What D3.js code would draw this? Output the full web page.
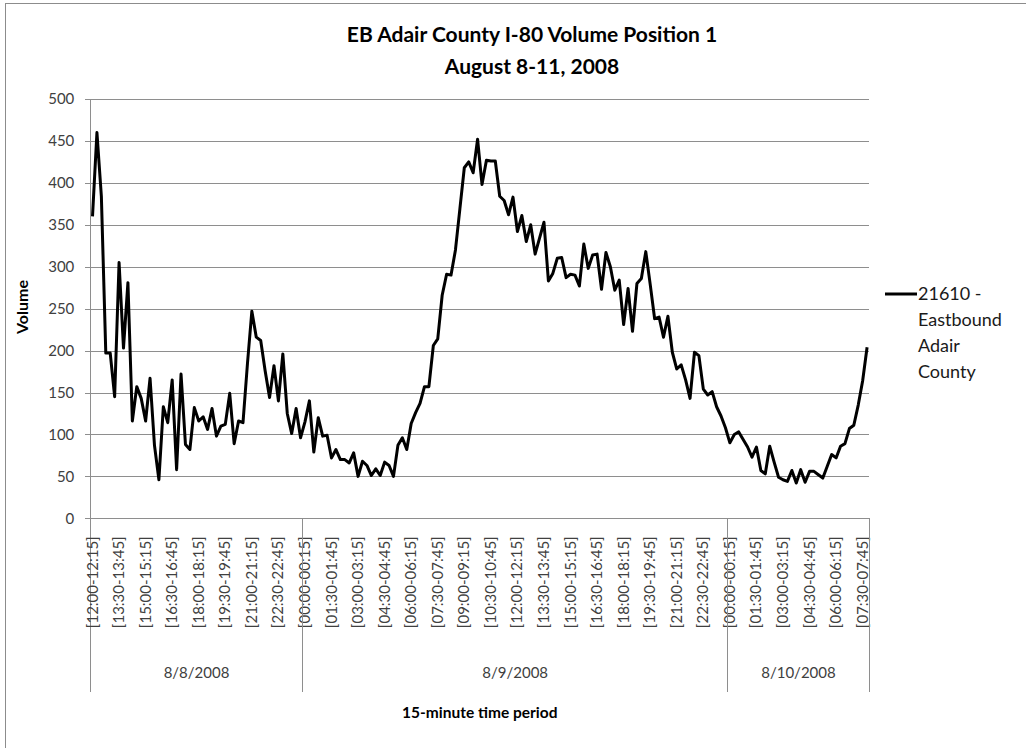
<!DOCTYPE html>
<html>
<head>
<meta charset="utf-8">
<script src="https://cdn.jsdelivr.net/npm/d3@7/dist/d3.min.js"></script>
<style>
  html, body { margin: 0; padding: 0; background: #ffffff; }
  svg { display: block; }
  text { font-family: Lato, "Open Sans", "DejaVu Sans", sans-serif; }
</style>
</head>
<body>
<script>
// ---------- data ----------
const chartTitle = ["EB Adair County I-80 Volume Position 1", "August 8-11, 2008"];
const yAxisTitle = "Volume";
const xAxisTitle = "15-minute time period";
const seriesName = ["21610 -", "Eastbound", "Adair", "County"];

const days = ["8/8/2008", "8/9/2008", "8/10/2008"];
const dayPeriodCounts = [48, 96, 32];
const firstDayStartMinutes = 12 * 60;   // 8/8 begins at 12:00

const tickLabels = [
  "[12:00-12:15]", "[13:30-13:45]", "[15:00-15:15]", "[16:30-16:45]", "[18:00-18:15]",
  "[19:30-19:45]", "[21:00-21:15]", "[22:30-22:45]",
  "[00:00-00:15]", "[01:30-01:45]", "[03:00-03:15]", "[04:30-04:45]", "[06:00-06:15]",
  "[07:30-07:45]", "[09:00-09:15]", "[10:30-10:45]", "[12:00-12:15]", "[13:30-13:45]",
  "[15:00-15:15]", "[16:30-16:45]", "[18:00-18:15]", "[19:30-19:45]", "[21:00-21:15]",
  "[22:30-22:45]",
  "[00:00-00:15]", "[01:30-01:45]", "[03:00-03:15]", "[04:30-04:45]", "[06:00-06:15]",
  "[07:30-07:45]"
];

const yTicks = [0, 50, 100, 150, 200, 250, 300, 350, 400, 450, 500];

const volume = [
  360, 460, 384, 197, 197, 145, 305, 203, 281, 116,
  157, 143, 116, 167, 87, 46, 133, 114, 165, 58,
  172, 88, 82, 132, 116, 121, 106, 131, 98, 110,
  112, 149, 89, 116, 114, 184, 247, 216, 212, 176,
  144, 182, 140, 196, 125, 101, 131, 96,
  115, 140, 79, 120, 98, 99, 72, 82, 70, 70,
  66, 78, 50, 68, 63, 51, 59, 51, 67, 63,
  50, 87, 96, 82, 113, 126, 137, 157, 157, 206,
  214, 266, 291, 290, 320, 369, 418, 425, 412, 452,
  398, 427, 426, 426, 384, 379, 362, 383, 342, 361,
  330, 350, 315, 334, 353, 283, 292, 310, 311, 287,
  291, 290, 277, 327, 298, 314, 315, 273, 317, 300,
  272, 284, 231, 274, 223, 280, 286, 318, 279, 238,
  240, 216, 241, 198, 178, 183, 165, 143, 198, 194,
  154, 147, 151, 133, 122, 108,
  90, 100, 103, 94, 85, 73, 85, 57, 53, 86,
  67, 49, 46, 44, 57, 42, 58, 43, 56, 56,
  52, 48, 62, 76, 72, 86, 89, 107, 111, 135,
  164, 204
];

// ---------- categories (one per 15-minute period) ----------
const pad = n => String(n).padStart(2, "0");
const fmt = m => pad(Math.floor(m / 60) % 24) + ":" + pad(m % 60);
const categories = [];
days.forEach((d, di) => {
  const start = di === 0 ? firstDayStartMinutes : 0;
  for (let k = 0; k < dayPeriodCounts[di]; k++) {
    const m = start + k * 15;
    categories.push({ day: d, label: "[" + fmt(m) + "-" + fmt(m + 15) + "]" });
  }
});
const data = categories.map((c, i) => ({ key: i, day: c.day, label: c.label, value: volume[i] }));

// ---------- layout ----------
const W = 1026, H = 748;
const plot = { left: 90.3, right: 869.3, top: 99, bottom: 518.3 };
const groupBottom = 692;

const svg = d3.select("body").append("svg").attr("width", W).attr("height", H);

// outer chart border (only top/left visible in the frame)
svg.append("rect").attr("x", 5.5).attr("y", 3.5).attr("width", 1040).attr("height", 780)
  .attr("fill", "none").attr("stroke", "#8c8c8c").attr("stroke-width", 1);

const x = d3.scaleBand().domain(data.map(d => d.key)).range([plot.left, plot.right]).padding(0);
const y = d3.scaleLinear().domain([0, 500]).range([plot.bottom, plot.top]);

// gridlines + y-axis
const yAxis = d3.axisLeft(y).tickValues(yTicks).tickSize(plot.right - plot.left + 5).tickPadding(11);
const yg = svg.append("g").attr("transform", `translate(${plot.right},0)`).call(yAxis);
yg.select(".domain").remove();
yg.selectAll(".tick line").attr("stroke", "#8e8e8e").attr("shape-rendering", "crispEdges");
yg.selectAll(".tick text").attr("font-size", 15).attr("fill", "#404040")
  .attr("font-family", "Lato, sans-serif");

// vertical axis line (extends to bottom of category groups)
svg.append("line").attr("x1", plot.left).attr("x2", plot.left)
  .attr("y1", plot.top).attr("y2", groupBottom)
  .attr("stroke", "#8e8e8e").attr("shape-rendering", "crispEdges");

// day boundaries (cumulative period counts)
let acc = 0;
const bounds = [0];
dayPeriodCounts.forEach(c => { acc += c; bounds.push(acc); });

// x-axis tick labels (every 6th period within each day)
const tickKeys = data.filter(d => {
  const di = days.indexOf(d.day);
  return (d.key - bounds[di]) % 6 === 0;
}).map(d => d.key);
const xAxis = d3.axisBottom(x).tickValues(tickKeys)
  .tickFormat((k, i) => tickLabels[i]).tickSize(0).tickPadding(0);
const xg = svg.append("g").attr("transform", `translate(0,${plot.bottom})`).call(xAxis);
xg.select(".domain").attr("stroke", "#8e8e8e").attr("shape-rendering", "crispEdges");
xg.selectAll(".tick text")
  .attr("font-size", 15).attr("fill", "#404040").attr("font-family", "Lato, sans-serif")
  .attr("text-anchor", "end").attr("dy", null)
  .attr("transform", "translate(5,18) rotate(-90)")
  .attr("y", 0).attr("x", 0);

// day group dividers and labels
const edge = b => b < data.length ? x(b) : x(data.length - 1) + x.bandwidth();
bounds.forEach((b, i) => {
  if (i === 0) return;
  const bx = edge(b);
  svg.append("line").attr("x1", bx).attr("x2", bx)
    .attr("y1", plot.bottom).attr("y2", groupBottom)
    .attr("stroke", "#8e8e8e").attr("shape-rendering", "crispEdges");
});
days.forEach((d, i) => {
  const x0 = edge(bounds[i]);
  const x1 = edge(bounds[i + 1]);
  svg.append("text").attr("x", (x0 + x1) / 2).attr("y", 678)
    .attr("text-anchor", "middle").attr("font-size", 15).attr("fill", "#404040").text(d);
});

// line
const line = d3.line().x(d => x(d.key) + x.bandwidth() / 2).y(d => y(d.value));
svg.append("path").datum(data).attr("d", line)
  .attr("fill", "none").attr("stroke", "#000").attr("stroke-width", 3)
  .attr("stroke-linejoin", "round");

// titles
svg.append("text").attr("x", 532).attr("y", 42).attr("text-anchor", "middle")
  .attr("font-size", 21).attr("font-weight", "bold").attr("fill", "#000").text(chartTitle[0]);
svg.append("text").attr("x", 532).attr("y", 74).attr("text-anchor", "middle")
  .attr("font-size", 21).attr("font-weight", "bold").attr("fill", "#000").text(chartTitle[1]);

svg.append("text").attr("transform", `translate(28,307) rotate(-90)`)
  .attr("text-anchor", "middle").attr("font-size", 16).attr("font-weight", "bold").attr("fill", "#000")
  .text(yAxisTitle);

svg.append("text").attr("x", (plot.left + plot.right) / 2).attr("y", 718)
  .attr("text-anchor", "middle").attr("font-size", 15.5).attr("font-weight", "bold").attr("fill", "#000")
  .text(xAxisTitle);

// legend
const lg = svg.append("g");
lg.append("line").attr("x1", 885).attr("x2", 917).attr("y1", 294).attr("y2", 294)
  .attr("stroke", "#000").attr("stroke-width", 3);
seriesName.forEach((t, i) => {
  lg.append("text").attr("x", 918).attr("y", 300 + i * 26).attr("font-size", 18)
    .attr("fill", "#1a1a1a").text(t);
});
</script>
</body>
</html>
